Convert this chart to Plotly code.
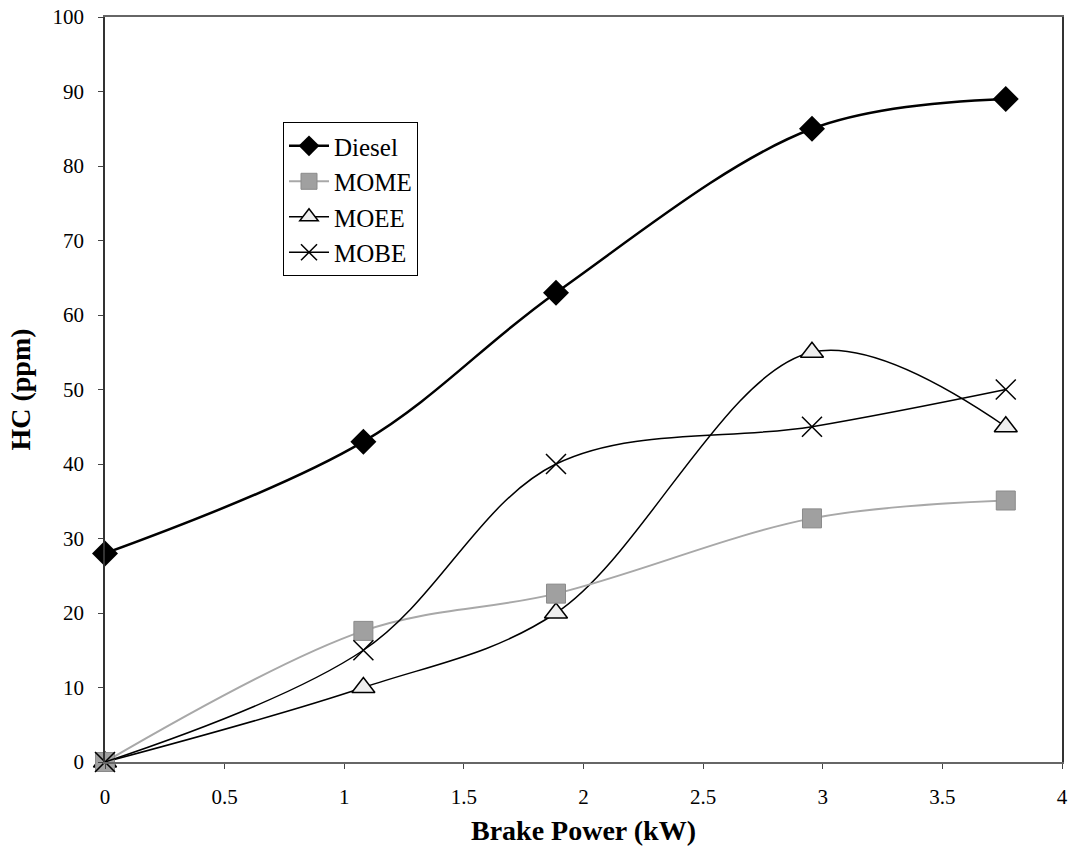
import plotly.graph_objects as go

brake_power = [0, 1.08, 1.885, 2.955, 3.765]
diesel = [28, 43, 63, 85, 89]
mome = [0, 17.6, 22.6, 32.7, 35.1]
moee = [0, 10, 20, 55, 45]
mobe = [0, 15, 40, 45, 50]

FONT = "Liberation Serif"

fig = go.Figure()
fig.add_trace(go.Scatter(
    x=brake_power, y=moee, name="MOEE", mode="lines+markers", legendrank=3, cliponaxis=False,
    line=dict(color="black", width=1.5, shape="spline"),
    marker=dict(symbol="triangle-up", size=20, color="#eeeeee", line=dict(color="black", width=1.5))))
fig.add_trace(go.Scatter(
    x=brake_power, y=mome, name="MOME", mode="lines+markers", legendrank=2, cliponaxis=False,
    line=dict(color="#a8a8a8", width=2, shape="spline"),
    marker=dict(symbol="square", size=19, color="#a0a0a0", line=dict(color="#8a8a8a", width=1))))
fig.add_trace(go.Scatter(
    x=brake_power, y=mobe, name="MOBE", mode="lines+markers", legendrank=4, cliponaxis=False,
    line=dict(color="black", width=1.5, shape="spline"),
    marker=dict(symbol="x-thin-open", size=20, color="black", line=dict(color="black", width=1.5))))
fig.add_trace(go.Scatter(
    x=brake_power, y=diesel, name="Diesel", mode="lines+markers", legendrank=1, cliponaxis=False,
    line=dict(color="black", width=2.5, shape="spline"),
    marker=dict(symbol="diamond", size=20, color="black")))

fig.update_layout(
    width=1073, height=858,
    margin=dict(l=105, r=11, t=17, b=96, autoexpand=False),
    paper_bgcolor="white", plot_bgcolor="white",
    font=dict(family=FONT, size=21, color="black"),
    showlegend=True,
    legend=dict(
        x=0.186, y=0.859, xanchor="left", yanchor="top",
        bgcolor="white", bordercolor="black", borderwidth=1,
        font=dict(family=FONT, size=25), traceorder="normal",
        itemwidth=40, tracegroupgap=0,
    ),
)

fig.update_xaxes(
    range=[0, 4], dtick=0.5, tick0=0, showgrid=False, zeroline=False, automargin=False,
    showline=True, linecolor="#666", linewidth=1.5, mirror=True,
    ticks="outside", ticklen=5, tickcolor="#444", ticklabelstandoff=10,
    tickfont=dict(family=FONT, size=21),
    title=dict(text="<b>Brake Power (kW)</b>", font=dict(family=FONT, size=28), standoff=12),
)
fig.update_yaxes(
    range=[0, 100], dtick=10, showgrid=False, zeroline=False, automargin=False,
    showline=True, linecolor="#333", linewidth=1.5, mirror=True,
    ticks="outside", ticklen=5, tickcolor="#444", ticklabelstandoff=10,
    tickfont=dict(family=FONT, size=21),
    title=dict(text="<b>HC (ppm)</b>", font=dict(family=FONT, size=28), standoff=14),
)

fig.write_html("out.html", config={"displayModeBar": False},
               post_script="document.body.style.margin='0px';document.body.style.overflow='hidden';")
